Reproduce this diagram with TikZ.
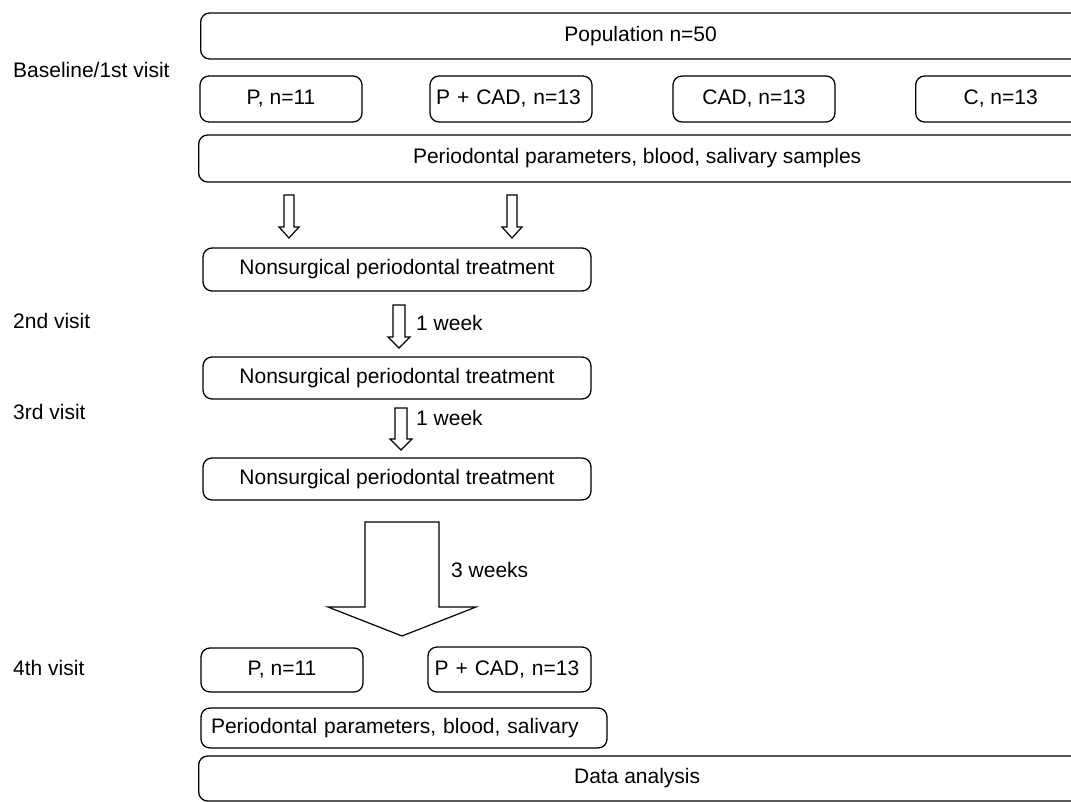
\documentclass[tikz,border=0pt]{standalone}
\usepackage{fontspec}
\setmainfont{Liberation Sans}
\usetikzlibrary{positioning}
\tikzset{
	box/.style={draw, rounded corners=9pt, line width=1.3pt, inner sep=0pt,
		font=\fontsize{21}{25}\selectfont},
	visit/.style={anchor=west, inner sep=0pt, font=\fontsize{21}{25}\selectfont},
	pics/openarrow/.style n args={4}{code={
		\draw[line width=1.2pt] (-#1,0) -- (-#1,#3) -- (-#2,#3) -- (0,#3+#4)
			-- (#2,#3) -- (#1,#3) -- (#1,0) -- cycle;}}
}
% text centred on the part of a box that shows, box running past the page
\newcommand{\cuttext}[2]{\makebox[#1]{#2}\hspace*{60pt}}
\begin{document}
\begin{tikzpicture}[x=1pt, y=-1pt]
\clip (0,0) rectangle (1071,802);
% visits
\node[visit] (v1) at (13,70) {Baseline/1st visit};
\node[visit] (v2) at (13,321) {2nd visit};
\node[visit] (v3) at (13,412) {3rd visit};
\node[visit] (v4) at (13,668) {4th visit};
% baseline
\node[box, anchor=west, minimum height=46pt] (pop) at (200,36) {\cuttext{880pt}{Population n=50}};
\node[box, minimum width=162pt, minimum height=46pt] (grpP) at (281,99) {P, n=11};
\node[box, text width=150pt, inner xsep=6pt, align=left, minimum height=46pt] (grpPC) at (511,99) {P + CAD, n=13};
\node[box, minimum width=162pt, minimum height=46pt] (grpCAD) at (754,99) {CAD, n=13};
\node[box, anchor=west, minimum height=46pt] (grpC) at (915,99) {\cuttext{170pt}{C, n=13}};
\node[box, anchor=west, minimum height=47pt] (samples) at (198,158.5) {\cuttext{877pt}{Periodontal parameters, blood, salivary samples}};
% treatment
\pic at (289,195) {openarrow={5}{10}{32}{11}};
\pic at (512,195) {openarrow={5}{10}{32}{11}};
\node[box, minimum width=388pt, minimum height=43pt] (treat1) at (397,269.5) {Nonsurgical periodontal treatment};
\pic at (399,305) {openarrow={6}{11}{32}{11}};
\node[visit] (wk1) at (416,323) {1 week};
\node[box, minimum width=388pt, minimum height=42pt] (treat2) at (397,378) {Nonsurgical periodontal treatment};
\pic at (401,408) {openarrow={6}{11}{31}{11}};
\node[visit] (wk2) at (416,418) {1 week};
\node[box, minimum width=388pt, minimum height=42pt] (treat3) at (397,479) {Nonsurgical periodontal treatment};
\pic at (402,522) {openarrow={37}{74}{85}{29}};
\node[visit] (wk3) at (451,570) {3 weeks};
% 4th visit
\node[box, minimum width=162pt, minimum height=44pt] (endP) at (282,670) {P, n=11};
\node[box, text width=150pt, inner xsep=6.5pt, align=left, minimum height=45pt] (endPC) at (509.5,669.5) {P + CAD, n=13};
\node[box, text width=386pt, inner xsep=10pt, align=left, minimum height=40pt] (endsamples) at (404,728) {Periodontal parameters, blood, salivary};
\node[box, anchor=west, minimum height=45pt] (data) at (198,778.5) {\cuttext{877pt}{Data analysis}};
\end{tikzpicture}
\end{document}
